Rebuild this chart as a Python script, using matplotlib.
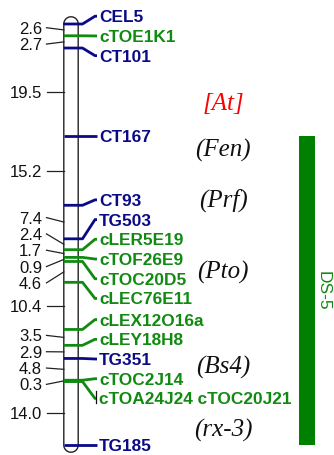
import numpy as np
import matplotlib
matplotlib.use("Agg")
import matplotlib.pyplot as plt

# linkage map of chromosome 6, distances in cM between adjacent loci
markers = ["CEL5", "cTOE1K1", "CT101", "CT167", "CT93", "TG503", "cLER5E19",
           "cTOF26E9", "cTOC20D5", "cLEC76E11", "cLEX12O16a", "cLEY18H8",
           "TG351", "cTOC2J14", "cTOA24J24 cTOC20J21", "TG185"]
intervals = [2.6, 2.7, 19.5, 15.2, 7.4, 2.4, 1.7, 0.9, 4.6, 10.4, 3.5, 2.9, 4.8, 0.3, 14.0]
marker_type = ["RFLP", "EST", "RFLP", "RFLP", "RFLP", "RFLP", "EST", "EST", "EST",
               "EST", "EST", "EST", "RFLP", "EST", "EST", "RFLP"]

# trait loci placed beside the map (cM)
traits = ["[At]", "(Fen)", "(Prf)", "(Pto)", "(Bs4)", "(rx-3)"]
trait_pos = [17.0, 27.4, 38.2, 54.3, 75.2, 89.1]
trait_col = ["red", "#111111", "#111111", "#111111", "#111111", "#111111"]

# disease-resistance block
block_name = "DS-5"
block_from, block_to = "CT167", "TG185"

pos = np.concatenate([[0], np.cumsum(intervals)])
mids = (pos[:-1] + pos[1:]) / 2
colors = {"RFLP": "#0a0a86", "EST": "#118a11"}


def spread(values, gap):
    # group neighbouring labels and space them evenly around the group mean
    groups = [[v] for v in values]
    while True:
        placed = []
        for g in groups:
            c = np.mean(g)
            placed.append(c + gap * (np.arange(len(g)) - (len(g) - 1) / 2))
        merged = False
        for i in range(len(groups) - 1):
            if placed[i][-1] + gap > placed[i + 1][0] + 1e-9:
                groups[i] = groups[i] + groups[i + 1]
                del groups[i + 1]
                merged = True
                break
        if not merged:
            return np.concatenate(placed)


px_per_cm = 4.532
top_px = 24
fig = plt.figure(figsize=(3.34, 4.55), dpi=100)
ax = fig.add_axes([0, 0, 1, 1])
ax.set_xlim(0, 334)
ax.set_ylim((455 - top_px) / px_per_cm, -top_px / px_per_cm)
ax.axis("off")

# chromosome outline: a stadium shape
x0, x1 = 63.8, 78.2
r = (x1 - x0) / 2
xc = (x0 + x1) / 2
ry = r / px_per_cm
t = np.linspace(0, np.pi, 40)
top_x = xc - r * np.cos(t)
top_y = pos[0] - ry * np.sin(t)
bot_x = xc + r * np.cos(t)
bot_y = pos[-1] + ry * np.sin(t)
ox = np.concatenate([top_x, bot_x, [top_x[0]]])
oy = np.concatenate([top_y, bot_y, [top_y[0]]])
ax.fill(ox, oy, color="white", zorder=1)
ax.plot(ox, oy, color="#222222", lw=1.0, zorder=3)

# marker bars and labels on the right
lab_y = spread(pos, 4.35)
for name, y, ly, kind in zip(markers, pos, lab_y, marker_type):
    c = colors[kind]
    ax.plot([x0, x1, 82.5, 95, 97], [y, y, y, ly, ly], color=c, lw=2.0,
            solid_capstyle="butt", zorder=4)
    ax.text(99, ly, name, color=c, fontsize=12.4, fontweight="bold",
            family="Liberation Sans", ha="left", va="center_baseline")
# bracket for co-segregating markers
ax.plot([95.7, 95.7], [lab_y[14] - 1.6, lab_y[14] + 0.9], color="#111111", lw=0.9, zorder=5)

# interval distances on the left
dist_y = spread(mids, 3.6)
for d, m, ly in zip(intervals, mids, dist_y):
    ax.plot([46.5, x0], [ly, m], color="#222222", lw=0.9, zorder=2)
    ax.text(42, ly, f"{d:.1f}", color="#111111", fontsize=12,
            family="Liberation Sans", ha="right", va="center_baseline")

# trait loci
for name, y, c in zip(traits, trait_pos, trait_col):
    ax.text(223, y, name, color=c, fontsize=18, style="italic",
            family="Liberation Serif", ha="center", va="center_baseline")

# resistance block
b0 = pos[markers.index(block_from)]
b1 = pos[markers.index(block_to)]
ax.fill_between([299, 315], b0, b1, color="#008000", lw=0)
ax.text(323.5, (b0 + b1) / 2, block_name, color="#118a11", fontsize=12.5,
        family="Liberation Sans", rotation=-90, ha="center", va="center")

fig.savefig("out.png", dpi=100)
